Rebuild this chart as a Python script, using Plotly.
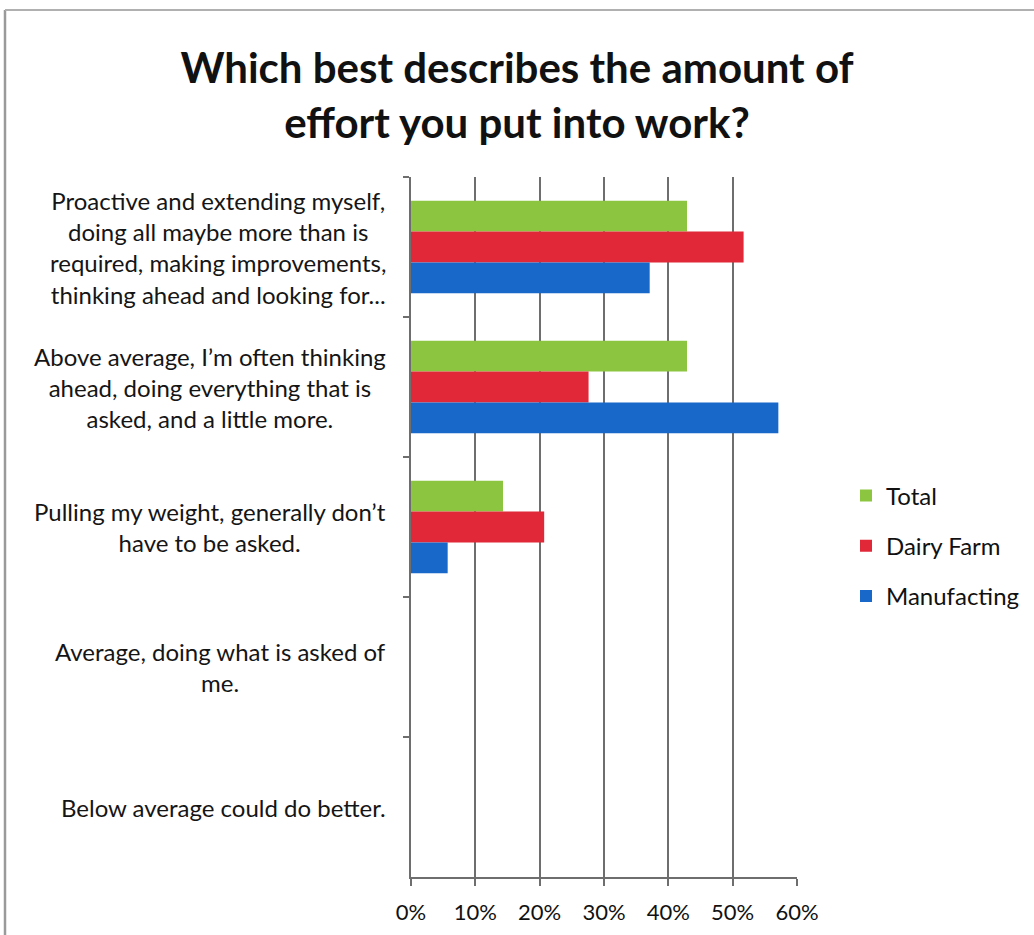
import plotly.graph_objects as go

# Survey answers (top to bottom as shown on the chart)
categories = [
    "Proactive and extending myself,<br>doing all maybe more than is<br>required, making improvements,<br>thinking ahead and looking for...",
    "Above average, I\u2019m often thinking<br>ahead, doing everything that is<br>asked, and a little more.",
    "Pulling my weight, generally don\u2019t<br>have to be asked.",
    "Average, doing what is asked of<br>me.",
    "Below average could do better.",
]
cat_keys = ["c1", "c2", "c3", "c4", "c5"]

# Share of respondents per group
total = [0.429, 0.429, 0.143, 0.0, 0.0]
dairy_farm = [0.517, 0.276, 0.207, 0.0, 0.0]
manufacting = [0.371, 0.571, 0.057, 0.0, 0.0]

x_ticks = [0, 0.1, 0.2, 0.3, 0.4, 0.5, 0.6]
x_tick_labels = ["0%", "10%", "20%", "30%", "40%", "50%", "60%"]

FONT = "Lato"
series = [
    ("Total", total, "#8CC540"),
    ("Dairy Farm", dairy_farm, "#E02838"),
    ("Manufacting", manufacting, "#1768C8"),
]

fig = go.Figure()
for name, vals, color in series:
    fig.add_trace(go.Bar(
        y=cat_keys, x=vals, name=name, orientation="h",
        marker=dict(color=color, line=dict(width=0)),
        legendgroup=name,
    ))

# Category labels, centred text block to the left of the axis
for key, label in zip(cat_keys, categories):
    fig.add_annotation(
        x=0, xref="paper", y=key, yref="y",
        text=label, showarrow=False, align="center",
        xanchor="right", yanchor="middle", xshift=-23,
        font=dict(family=FONT, size=24, color="#151515"),
    )

# Chart frame (left and top edges)
fig.add_shape(type="line", xref="paper", yref="paper",
              x0=(5 - 411) / 386, x1=(5 - 411) / 386,
              y0=(877 - 10) / 700, y1=(877 - 940) / 700,
              line=dict(color="#9a9a9a", width=2.5))
fig.add_shape(type="line", xref="paper", yref="paper",
              x0=(5 - 411) / 386, x1=(1040 - 411) / 386,
              y0=(877 - 10) / 700, y1=(877 - 10) / 700,
              line=dict(color="#b0b0b0", width=2))

fig.update_layout(
    width=1034, height=935,
    margin=dict(l=411, r=237, t=177, b=58, autoexpand=False),
    paper_bgcolor="white", plot_bgcolor="white",
    barmode="group", bargap=0.34, bargroupgap=0,
    title=dict(
        text="<b>Which best describes the amount of<br>effort you put into work?</b>",
        x=0.5, xanchor="center", xref="container",
        y=1 - 83 / 935, yanchor="middle", yref="container",
        font=dict(family=FONT, size=42, color="#111111"),
    ),
    showlegend=True,
    legend=dict(
        x=(846 - 411) / 386, xanchor="left",
        y=(877 - 546) / 700, yanchor="middle",
        font=dict(family=FONT, size=24, color="#111111"),
        tracegroupgap=16, bgcolor="rgba(0,0,0,0)",
    ),
    xaxis=dict(
        range=[0, 0.6], tickvals=x_ticks, ticktext=x_tick_labels,
        showgrid=True, gridcolor="#6e6e6e", gridwidth=1.5,
        showline=True, linecolor="#6e6e6e", linewidth=1.5,
        ticks="outside", ticklen=7, tickcolor="#6e6e6e", tickwidth=1.5,
        ticklabelstandoff=8,
        tickfont=dict(family=FONT, size=22, color="#111111"),
        zeroline=False, fixedrange=True,
    ),
    yaxis=dict(
        categoryorder="array", categoryarray=cat_keys,
        autorange="reversed", showticklabels=False,
        showline=True, linecolor="#6e6e6e", linewidth=1.5,
        ticks="outside", ticklen=6, tickcolor="#6e6e6e", tickwidth=1.5,
        tickson="boundaries", showgrid=False, fixedrange=True,
    ),
)

fig.write_html("out.html")
